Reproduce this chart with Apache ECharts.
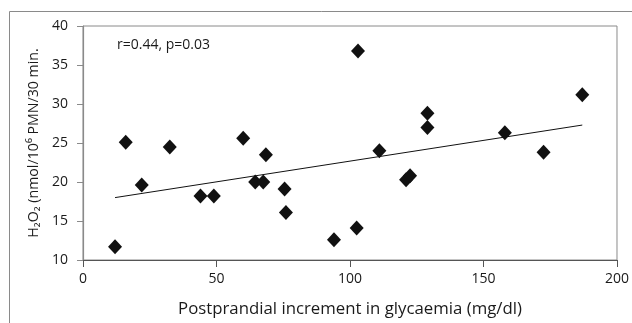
<!DOCTYPE html>
<html><head><meta charset="utf-8">
<script src="https://cdn.jsdelivr.net/npm/echarts@6/dist/echarts.min.js"></script>
<style>html,body{margin:0;padding:0;background:#fff}#c{width:632px;height:323px}</style>
</head><body><div id="c"></div>
<script>
const glycaemiaIncrement = [12, 16, 22, 32.5, 44, 49, 60, 64.5, 67.5, 68.5, 75.5, 76, 103, 94, 102.5, 111, 121, 122.5, 129, 129, 158, 172.5, 187];
const h2o2 = [11.7, 25.1, 19.6, 24.5, 18.2, 18.2, 25.6, 20.0, 20.0, 23.5, 19.1, 16.1, 36.8, 12.6, 14.1, 24.0, 20.3, 20.8, 28.8, 27.0, 26.3, 23.8, 31.2];
const fitX = [12, 187];
const fitY = [18.0, 27.3];
const xTicks = [0, 50, 100, 150, 200];
const yTicks = [10, 15, 20, 25, 30, 35, 40];
const annotation = 'r=0.44, p=0.03';
const xName = 'Postprandial increment in glycaemia (mg/dl)';
const yName = 'H₂O₂ (nmol/10⁶ PMN/30 min.';

const font = 'Open Sans';
const chart = echarts.init(document.getElementById('c'), null, {renderer: 'canvas'});
chart.setOption({
  animation: false,
  textStyle: {fontFamily: font},
  grid: {left: 83, top: 26, right: 9, bottom: 58, show: true, borderColor: '#8a8a8a', borderWidth: 1, containLabel: false},
  graphic: [
    {type: 'rect', shape: {x: 9.5, y: 11.5, width: 800, height: 500}, style: {fill: 'none', stroke: '#8a8a8a', lineWidth: 1}, silent: true, z: -1},
    {type: 'text', left: 117, top: 38, style: {text: annotation, font: '14px "' + font + '"', fill: '#1a1a1a'}}
  ],
  xAxis: {
    type: 'value', min: xTicks[0], max: xTicks[xTicks.length - 1], interval: xTicks[1] - xTicks[0],
    name: xName, nameLocation: 'middle', nameGap: 41,
    nameTextStyle: {fontSize: 16.8, color: '#1a1a1a', fontFamily: font},
    axisLine: {show: true, onZero: false, lineStyle: {color: '#555', width: 1.2}},
    axisTick: {show: true, inside: false, length: 7, lineStyle: {color: '#555'}},
    axisLabel: {fontSize: 14, color: '#1a1a1a', margin: 12, fontFamily: font},
    splitLine: {show: false}
  },
  yAxis: {
    type: 'value', min: yTicks[0], max: yTicks[yTicks.length - 1], interval: yTicks[1] - yTicks[0],
    name: yName, nameLocation: 'middle', nameGap: 40, nameRotate: 90,
    nameTextStyle: {fontSize: 14.2, color: '#1a1a1a', fontFamily: font},
    axisLine: {show: true, onZero: false, lineStyle: {color: '#8a8a8a', width: 1.2}},
    axisTick: {show: true, inside: false, length: 6, lineStyle: {color: '#8a8a8a'}},
    axisLabel: {fontSize: 14, color: '#1a1a1a', margin: 15, fontFamily: font},
    splitLine: {show: false}
  },
  series: [
    {type: 'line', data: fitX.map((x, i) => [x, fitY[i]]), showSymbol: false, symbol: 'none',
     lineStyle: {color: '#111', width: 1}, z: 2},
    {type: 'scatter', data: glycaemiaIncrement.map((x, i) => [x, h2o2[i]]), symbol: 'diamond', symbolSize: [14, 15],
     itemStyle: {color: '#111', opacity: 1}, z: 3}
  ]
});
</script></body></html>
